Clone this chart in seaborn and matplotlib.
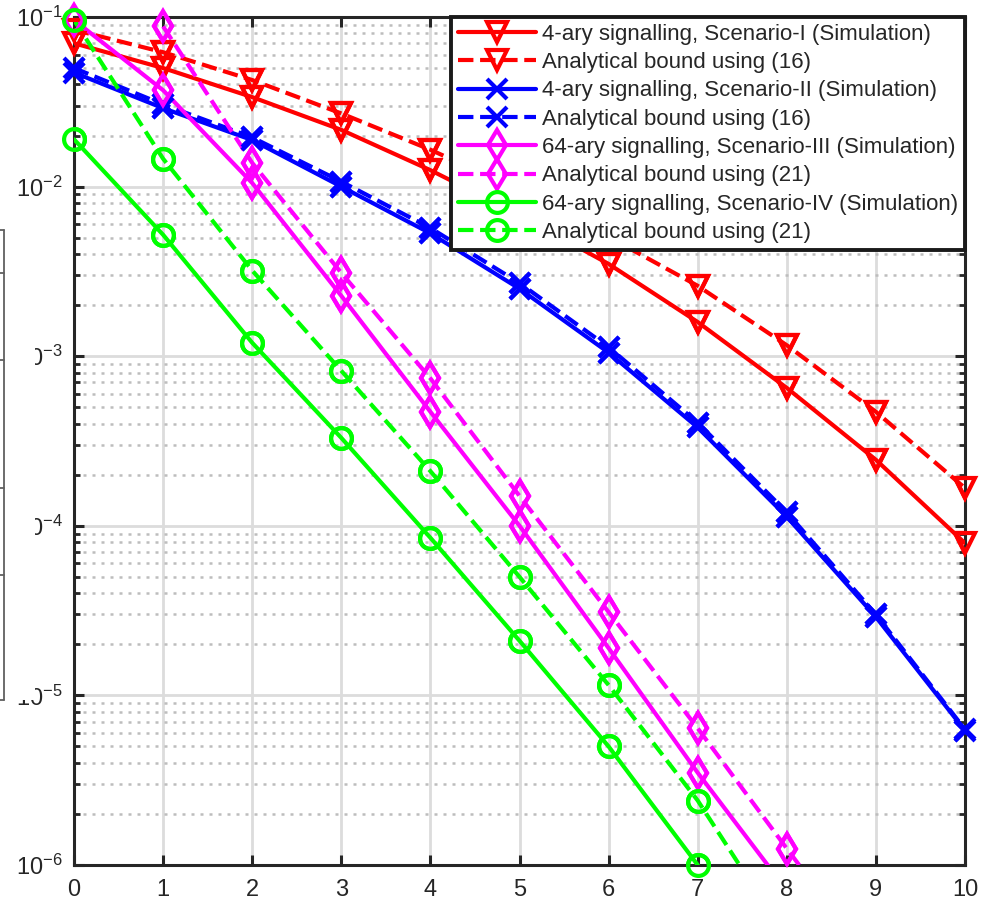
import numpy as np
import pandas as pd
import seaborn as sns
import matplotlib
matplotlib.use("Agg")
import matplotlib.pyplot as plt
from matplotlib.patches import Rectangle
from matplotlib.lines import Line2D
from matplotlib.ticker import LogLocator, NullFormatter

# ---------------- data ----------------
snr = [0, 1, 2, 3, 4, 5, 6, 7, 8, 9, 10]

s1_sim = [7.0e-2, 5.0e-2, 3.37e-2, 2.16e-2, 1.25e-2, 6.8e-3, 3.5e-3, 1.59e-3, 6.5e-4, 2.45e-4, 7.9e-5]
s1_bnd = [8.4e-2, 6.2e-2, 4.25e-2, 2.7e-2, 1.65e-2, 9.5e-3, 5.05e-3, 2.6e-3, 1.16e-3, 4.7e-4, 1.67e-4]
s2_sim = [4.7e-2, 2.9e-2, 1.88e-2, 1.0e-2, 5.3e-3, 2.5e-3, 1.05e-3, 3.8e-4, 1.13e-4, 2.9e-5, 6.2e-6]
s2_bnd = [5.0e-2, 3.05e-2, 1.95e-2, 1.07e-2, 5.7e-3, 2.7e-3, 1.13e-3, 4.05e-4, 1.2e-4, 3.0e-5, 6.3e-6]

snr_s3_sim = [0, 1, 2, 3, 4, 5, 6, 7, 8]
s3_sim = [9.6e-2, 3.7e-2, 1.05e-2, 2.27e-3, 4.7e-4, 1.0e-4, 1.9e-5, 3.5e-6, 7.1e-7]
snr_s3_bnd = [1, 2, 3, 4, 5, 6, 7, 8, 9]
s3_bnd = [8.8e-2, 1.38e-2, 3.1e-3, 7.4e-4, 1.5e-4, 3.1e-5, 6.4e-6, 1.25e-6, 2.5e-7]

snr_s4_sim = [0, 1, 2, 3, 4, 5, 6, 7]
s4_sim = [1.9e-2, 5.2e-3, 1.2e-3, 3.3e-4, 8.5e-5, 2.1e-5, 5.0e-6, 1.0e-6]
snr_s4_bnd = [0, 1, 2, 3, 4, 5, 6, 7, 8]
s4_bnd = [9.6e-2, 1.46e-2, 3.2e-3, 8.2e-4, 2.1e-4, 5.0e-5, 1.15e-5, 2.4e-6, 3.7e-7]

labels = [
    "4-ary signalling, Scenario-I (Simulation)",
    "Analytical bound using (16)",
    "4-ary signalling, Scenario-II (Simulation)",
    "Analytical bound using (16)",
    "64-ary signalling, Scenario-III (Simulation)",
    "Analytical bound using (21)",
    "64-ary signalling, Scenario-IV (Simulation)",
    "Analytical bound using (21)",
]
x_ticks = [0, 1, 2, 3, 4, 5, 6, 7, 8, 9, 10]

series = [
    (snr, s1_sim, "#ff0000", "-", "v"),
    (snr, s1_bnd, "#ff0000", "--", "v"),
    (snr, s2_sim, "#0000ff", "-", "x"),
    (snr, s2_bnd, "#0000ff", "--", "x"),
    (snr_s3_sim, s3_sim, "#ff00ff", "-", "d"),
    (snr_s3_bnd, s3_bnd, "#ff00ff", "--", "d"),
    (snr_s4_sim, s4_sim, "#00ff00", "-", "o"),
    (snr_s4_bnd, s4_bnd, "#00ff00", "--", "o"),
]

# ---------------- style ----------------
sns.set_theme(style="white")
plt.rcParams["font.family"] = ["Liberation Sans", "DejaVu Sans"]
plt.rcParams["mathtext.default"] = "regular"
plt.rcParams["text.color"] = "#262626"

fig = plt.figure(figsize=(9.86, 9.0), dpi=100)
ax = fig.add_axes([74/986, 1-865/900, (965-74)/986, (865-17)/900])
ax.set_yscale("log")

ymin, ymax = 1e-6, 1e-1
lw = 3.0
ms = 15
mew = 3.0

for (xs, ys, col, ls, mk), lab in zip(series, labels):
    df = pd.DataFrame({"x": xs, "y": ys})
    sns.lineplot(data=df, x="x", y="y", ax=ax, color=col, linestyle=ls,
                 linewidth=lw, marker=mk, markersize=ms, markerfacecolor="none",
                 markeredgecolor=col, markeredgewidth=mew, label=lab,
                 estimator=None, zorder=3, dashes=False if ls == "-" else (3.0, 2.2))
    xi = [a for a, b in zip(xs, ys) if ymin * 0.999 <= b <= ymax * 1.001]
    yi = [b for b in ys if ymin * 0.999 <= b <= ymax * 1.001]
    ax.plot(xi, yi, linestyle="none", marker=mk, markersize=ms,
            markerfacecolor="none", markeredgecolor=col, markeredgewidth=mew,
            clip_on=False, zorder=4)

ax.set_xlim(0, 10)
ax.set_ylim(ymin, ymax)
ax.set_xticks(x_ticks)
ax.set_xticklabels([str(v) for v in x_ticks])
ax.yaxis.set_major_locator(LogLocator(base=10, numticks=10))
ax.yaxis.set_minor_locator(LogLocator(base=10, subs=np.arange(2, 10), numticks=20))
ax.yaxis.set_minor_formatter(NullFormatter())
ax.set_xlabel("")
ax.set_ylabel("")

ax.grid(True, which="major", axis="both", color="#dcdcdc", linewidth=2.0, linestyle="-", zorder=0)
ax.grid(True, which="minor", axis="y", color="#bdbdbd", linewidth=1.8, linestyle=(0, (1.2, 2.4)), zorder=0)
ax.set_axisbelow(True)

for sp in ax.spines.values():
    sp.set_visible(True)
    sp.set_color("#262626")
    sp.set_linewidth(2.2)

ax.tick_params(axis="both", which="major", direction="in", length=7, width=2.2,
               color="#262626", labelsize=17, labelcolor="#262626",
               top=True, right=True, bottom=True, left=True)
ax.tick_params(axis="y", which="minor", direction="in", length=4.5, width=2.0,
               color="#262626", left=True, right=True)
ax.tick_params(axis="x", which="major", pad=10)
ax.tick_params(axis="y", which="major", pad=8)

leg = ax.legend(loc="upper right", bbox_to_anchor=(1.0, 1.0), borderaxespad=0.0,
                fontsize=16, handlelength=3.5, handletextpad=0.3,
                labelspacing=0.33, borderpad=0.3, fancybox=False, framealpha=1.0,
                edgecolor="#1a1a1a", numpoints=1)
leg.get_frame().set_linewidth(2.8)
leg.set_zorder(10)

# Overlapping fragment of a neighbouring figure at the left edge
H = 900.0
W = 986.0
def fy(p):
    return 1 - p / H
fig.patches.append(Rectangle((0, fy(700)), 35 / W, (700 - 230) / H, transform=fig.transFigure,
                             facecolor="white", edgecolor="none", zorder=20))
fig.lines.append(Line2D([4 / W, 4 / W], [fy(230), fy(700)], transform=fig.transFigure,
                        color="#606060", linewidth=1.3, zorder=21))
for p in [230, 273, 360, 488, 575, 700]:
    fig.lines.append(Line2D([0, 4 / W], [fy(p), fy(p)], transform=fig.transFigure,
                            color="#606060", linewidth=1.3, zorder=21))

fig.savefig("out.png", dpi=100)
